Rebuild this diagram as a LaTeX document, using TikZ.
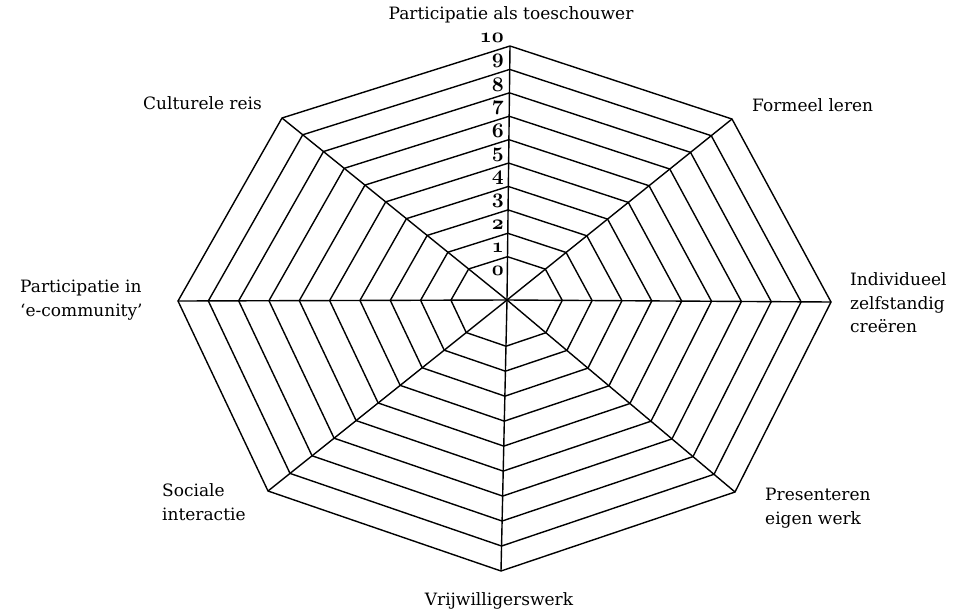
\documentclass[tikz,border=0pt]{standalone}
\usepackage{fontspec}
\setmainfont{DejaVu Serif}
\usetikzlibrary{calc}
% old-style figures for the level numbers
\newcommand\ringnum[1]{{\usefont{OML}{cmm}{b}{it}#1}}
\begin{document}
\begin{tikzpicture}[x=1pt,y=-1pt,
  web/.style={line width=1.4pt, line join=miter},
  axislabel/.style={font=\fontsize{17}{23.5}\selectfont, inner sep=0pt, align=left},
  levellabel/.style={font=\fontsize{20}{20}\selectfont, inner sep=0pt, anchor=east}]
\useasboundingbox (0,0) rectangle (980,614);

% centre and outer corners of the octagonal web
\coordinate (c)   at (507,300);
\coordinate (vT)  at (510,46);
\coordinate (vUR) at (732,119);
\coordinate (vR)  at (831,302);
\coordinate (vLR) at (735,492);
\coordinate (vB)  at (501,571);
\coordinate (vLL) at (268,491);
\coordinate (vL)  at (178,301);
\coordinate (vUL) at (282,118);

% ten concentric octagons
\foreach \k in {1,...,10}{
  \pgfmathsetmacro\f{(\k+0.85)/10.85}
  \draw[web] ($(c)!\f!(vT)$) -- ($(c)!\f!(vUR)$) -- ($(c)!\f!(vR)$) -- ($(c)!\f!(vLR)$)
    -- ($(c)!\f!(vB)$) -- ($(c)!\f!(vLL)$) -- ($(c)!\f!(vL)$) -- ($(c)!\f!(vUL)$) -- cycle;
}
% spokes
\foreach \v in {vT,vUR,vR,vLR,vB,vLL,vL,vUL}
  \draw[web] (c) -- (\v);

% scale along the top spoke
\foreach \k in {0,...,10}
  \node[levellabel] (lv\k) at (504,{271-23.3*\k}) {\ringnum{\k}};

% axis names
\node[axislabel] (top) at (511,15) {Participatie als toeschouwer};
\node[axislabel, anchor=west] (formeel) at (752,105) {Formeel leren};
\node[axislabel, anchor=west] (indiv) at (850,303) {Individueel\\zelfstandig\\creëren};
\node[axislabel, anchor=west] (pres) at (765,508) {Presenteren\\eigen werk};
\node[axislabel] (vrij) at (499,601) {Vrijwilligerswerk};
\node[axislabel, anchor=west] (soc) at (162,502) {Sociale\\interactie};
\node[axislabel, anchor=west] (ecom) at (20,300) {Participatie in\\‘e-community’};
\node[axislabel, anchor=west] (cult) at (143,103) {Culturele reis};
\end{tikzpicture}
\end{document}
